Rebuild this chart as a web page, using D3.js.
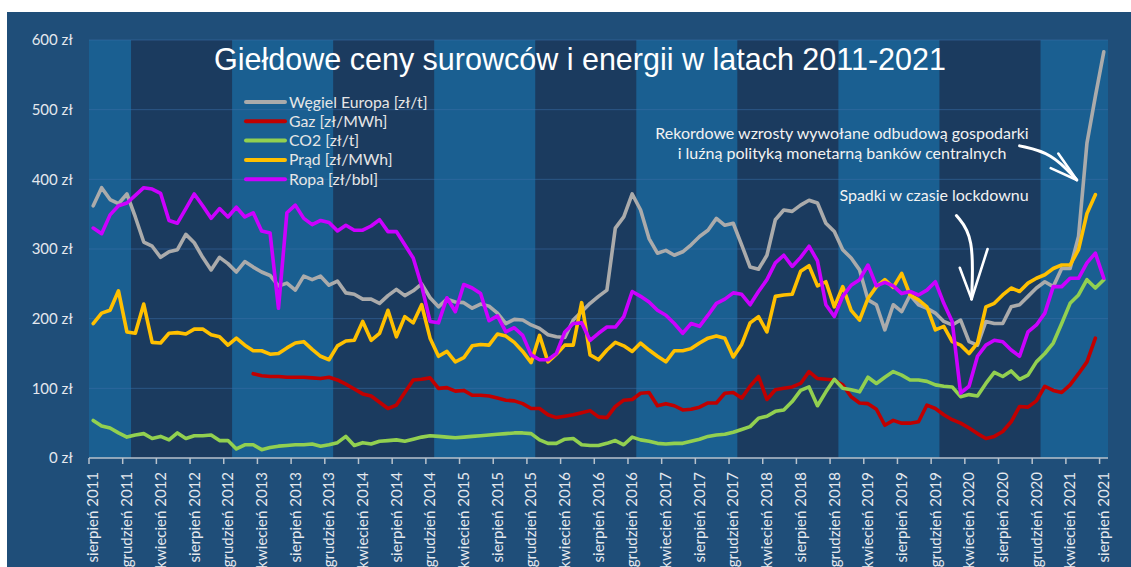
<!DOCTYPE html>
<html>
<head>
<meta charset="utf-8">
<script src="https://cdn.jsdelivr.net/npm/d3@7"></script>
<style>
  html, body { margin: 0; padding: 0; background: #ffffff; }
  svg { display: block; }
  text { font-family: Lato, "Open Sans", sans-serif; }
</style>
</head>
<body>
<div id="chart"></div>
<script>
// monthly data, sierpień 2011 .. sierpień 2021 (121 months)
const startYear = 2011;
const startMonth = 7; // 0-based, August

const tickLabels = [
  'sierpień 2011', 'grudzień 2011', 'kwiecień 2012', 'sierpień 2012', 'grudzień 2012',
  'kwiecień 2013', 'sierpień 2013', 'grudzień 2013', 'kwiecień 2014', 'sierpień 2014',
  'grudzień 2014', 'kwiecień 2015', 'sierpień 2015', 'grudzień 2015', 'kwiecień 2016',
  'sierpień 2016', 'grudzień 2016', 'kwiecień 2017', 'sierpień 2017', 'grudzień 2017',
  'kwiecień 2018', 'sierpień 2018', 'grudzień 2018', 'kwiecień 2019', 'sierpień 2019',
  'grudzień 2019', 'kwiecień 2020', 'sierpień 2020', 'grudzień 2020', 'kwiecień 2021',
  'sierpień 2021'
];

const yTicks = [0, 100, 200, 300, 400, 500, 600];

const wegiel = [
  362, 388, 371, 365, 379, 346, 310, 304, 288, 296, 299, 321, 309, 288, 270, 288, 279, 267, 282, 274,
  267, 262, 247, 251, 241, 261, 256, 261, 248, 254, 237, 235, 228, 228, 222, 233, 242, 233, 240, 250,
  230, 217, 228, 224, 223, 215, 221, 218, 208, 193, 199, 198, 191, 186, 177, 174, 173, 198, 210, 222,
  232, 241, 330, 346, 379, 356, 315, 294, 298, 291, 296, 306, 318, 327, 344, 334, 337, 306, 274, 271,
  291, 342, 356, 354, 363, 370, 366, 337, 325, 299, 287, 270, 227, 220, 184, 220, 210, 234, 220, 215,
  208, 196, 191, 198, 167, 162, 196, 193, 193, 217, 220, 232, 244, 253, 246, 272, 272, 318, 452, 519,
  583
];

const gaz = [
  null, null, null, null, null, null, null, null, null, null, null, null, null, null, null, null, null, null, null, 121,
  118, 117, 117, 116, 116, 116, 115, 114, 116, 112, 106, 99, 92, 89, 80, 71, 76, 94, 112, 113,
  115, 100, 101, 96, 97, 90, 90, 89, 86, 83, 82, 78, 71, 71, 62, 58, 60, 62, 65, 68,
  59, 58, 74, 83, 84, 93, 94, 75, 78, 75, 69, 70, 73, 79, 79, 93, 94, 86, 103, 117,
  84, 98, 100, 102, 107, 124, 114, 113, 112, 105, 88, 79, 78, 70, 47, 54, 50, 50, 52, 76,
  71, 62, 55, 50, 43, 35, 28, 31, 38, 52, 74, 73, 82, 103, 97, 94, 105, 121, 138, 172,
  null
];

const co2 = [
  54, 46, 43, 36, 30, 33, 35, 28, 31, 26, 36, 28, 32, 32, 33, 25, 25, 13, 19, 19,
  12, 15, 17, 18, 19, 19, 20, 17, 19, 22, 31, 18, 22, 20, 24, 25, 26, 24, 27, 30,
  32, 31, 30, 29, 30, 31, 32, 33, 34, 35, 36, 36, 35, 26, 21, 21, 27, 28, 19, 18,
  18, 21, 25, 19, 30, 26, 24, 21, 20, 21, 21, 24, 27, 31, 33, 34, 37, 41, 45, 57,
  60, 67, 69, 81, 97, 102, 75, 95, 113, 100, 98, 95, 116, 107, 116, 124, 119, 112, 112, 110,
  105, 103, 102, 88, 91, 89, 107, 123, 117, 125, 113, 119, 138, 150, 165, 193, 222, 234, 256, 244,
  256
];

const prad = [
  193, 208, 212, 240, 181, 179, 221, 166, 165, 179, 180, 178, 185, 185, 177, 174, 162, 172, 162, 154,
  154, 149, 150, 158, 165, 167, 156, 146, 141, 161, 168, 169, 196, 169, 179, 212, 174, 203, 194, 220,
  172, 146, 153, 138, 144, 161, 163, 162, 178, 175, 166, 153, 137, 176, 138, 149, 162, 162, 223, 148,
  141, 155, 166, 161, 153, 165, 155, 146, 138, 154, 154, 157, 165, 172, 175, 172, 145, 163, 194, 203,
  181, 232, 234, 235, 268, 276, 247, 253, 217, 246, 212, 198, 229, 246, 256, 245, 265, 234, 227, 217,
  184, 189, 167, 162, 150, 165, 217, 222, 234, 244, 239, 251, 258, 263, 272, 277, 277, 299, 351, 378,
  null
];

const ropa = [
  330, 322, 349, 362, 366, 377, 388, 386, 380, 341, 337, 358, 379, 362, 344, 358, 346, 360, 346, 352,
  326, 323, 215, 352, 363, 344, 335, 341, 338, 326, 334, 327, 327, 333, 342, 325, 325, 306, 287, 247,
  196, 194, 230, 210, 249, 244, 236, 197, 204, 181, 187, 176, 148, 141, 141, 150, 181, 193, 194, 169,
  179, 188, 188, 203, 239, 232, 224, 212, 205, 193, 179, 193, 189, 205, 222, 228, 237, 235, 220, 239,
  256, 280, 291, 275, 288, 304, 283, 220, 203, 232, 248, 256, 277, 247, 252, 247, 236, 239, 234, 241,
  253, 222, 196, 93, 103, 146, 162, 169, 167, 155, 146, 181, 191, 208, 246, 246, 258, 258, 280, 294,
  258
];

const seriesNames = ['Węgiel Europa [zł/t]', 'Gaz [zł/MWh]', 'CO2 [zł/t]', 'Prąd [zł/MWh]', 'Ropa [zł/bbl]'];
const seriesColors = ['#ababab', '#c00000', '#92d050', '#ffc000', '#cc00ff'];
const seriesValues = [wegiel, gaz, co2, prad, ropa];

const width = 1131, height = 567;
const plot = { left: 89, right: 1108, top: 40, bottom: 458 };

const svg = d3.select('#chart').append('svg')
  .attr('width', width)
  .attr('height', height);

// outer background
svg.append('rect')
  .attr('x', 7).attr('y', 12)
  .attr('width', width - 7).attr('height', height - 12)
  .attr('fill', '#1f4e79');

const monthIdx = d3.range(wegiel.length);
// month index -> centre of its category slot
const x = d3.scaleLinear()
  .domain([-0.5, monthIdx.length - 0.5])
  .range([plot.left, plot.right]);
const y = d3.scaleLinear().domain([0, 600]).range([plot.bottom, plot.top]);

// year bands
const yearOf = i => startYear + Math.floor((startMonth + i) / 12);
const years = d3.groups(monthIdx, yearOf);
svg.append('g').selectAll('rect')
  .data(years)
  .join('rect')
  .attr('x', d => x(d[1][0] - 0.5))
  .attr('y', plot.top)
  .attr('width', d => x(d[1][d[1].length - 1] + 0.5) - x(d[1][0] - 0.5))
  .attr('height', plot.bottom - plot.top)
  .attr('fill', (d, k) => k % 2 === 0 ? '#1a5f91' : '#1b3b5f');

// gridlines
svg.append('g').selectAll('line')
  .data(yTicks.slice(1))
  .join('line')
  .attr('x1', plot.left).attr('x2', plot.right)
  .attr('y1', d => y(d)).attr('y2', d => y(d))
  .attr('stroke', '#3a6fa8')
  .attr('stroke-opacity', 0.55)
  .attr('stroke-width', 1);

// y labels
svg.append('g').selectAll('text')
  .data(yTicks)
  .join('text')
  .attr('x', 73)
  .attr('y', d => y(d))
  .attr('dy', '0.35em')
  .attr('text-anchor', 'end')
  .attr('fill', '#e4e8ee')
  .style('font-size', '15px')
  .text(d => `${d} zł`);

// x axis: ticks between categories, labels on every 4th month
const xAxis = svg.append('g');
xAxis.append('line')
  .attr('x1', plot.left).attr('x2', plot.right)
  .attr('y1', plot.bottom).attr('y2', plot.bottom)
  .attr('stroke', '#b8c2cc').attr('stroke-width', 1.5);
xAxis.selectAll('line.tick')
  .data(tickLabels)
  .join('line')
  .attr('class', 'tick')
  .attr('x1', (d, k) => x(k * 4 - 0.5)).attr('x2', (d, k) => x(k * 4 - 0.5))
  .attr('y1', plot.bottom).attr('y2', plot.bottom + 6)
  .attr('stroke', '#b8c2cc').attr('stroke-width', 1.5);
xAxis.selectAll('text')
  .data(tickLabels)
  .join('text')
  .attr('transform', (d, k) => `translate(${x(k * 4)},${plot.bottom + 14}) rotate(-90)`)
  .attr('text-anchor', 'end')
  .attr('dy', '0.35em')
  .attr('fill', '#e4e8ee')
  .style('font-size', '15px')
  .text(d => d);

// lines
const line = d3.line()
  .defined(d => d[1] != null)
  .x(d => x(d[0]))
  .y(d => y(d[1]));

svg.append('g').selectAll('path')
  .data(seriesValues)
  .join('path')
  .attr('d', vals => line(vals.map((v, i) => [i, v])))
  .attr('fill', 'none')
  .attr('stroke', (d, k) => seriesColors[k])
  .attr('stroke-width', 3.6)
  .attr('stroke-linejoin', 'round')
  .attr('stroke-linecap', 'round');

// title
svg.append('text')
  .attr('x', 580).attr('y', 70)
  .attr('text-anchor', 'middle')
  .attr('fill', '#ffffff')
  .style('font-family', '"Liberation Sans", Arial, sans-serif')
  .style('font-size', '30.5px')
  .text('Giełdowe ceny surowców i energii w latach 2011-2021');

// legend
const legend = svg.append('g').attr('transform', 'translate(246,102)');
const rows = legend.selectAll('g')
  .data(seriesNames)
  .join('g')
  .attr('transform', (d, k) => `translate(0,${k * 19.3})`);
rows.append('line')
  .attr('x1', 0).attr('x2', 39)
  .attr('stroke', (d, k) => seriesColors[k])
  .attr('stroke-width', 4)
  .attr('stroke-linecap', 'round');
rows.append('text')
  .attr('x', 43)
  .attr('dy', '0.35em')
  .attr('fill', '#e6e6e6')
  .style('font-size', '15.8px')
  .text(d => d);

// annotations
const notes = svg.append('g')
  .attr('fill', '#f2f2f2')
  .attr('text-anchor', 'middle')
  .style('font-size', '16px');
notes.append('text').attr('x', 842).attr('y', 133).attr('dy', '0.35em')
  .text('Rekordowe wzrosty wywołane odbudową gospodarki');
notes.append('text').attr('x', 842).attr('y', 153).attr('dy', '0.35em')
  .text('i luźną polityką monetarną banków centralnych');
notes.append('text').attr('x', 934).attr('y', 195).attr('dy', '0.35em')
  .text('Spadki w czasie lockdownu');

// hand-drawn arrows, anchored in data space [month index, value]
const pt = d => [x(d[0]), y(d[1])];
const curve = d3.line().curve(d3.curveBasis).x(d => pt(d)[0]).y(d => pt(d)[1]);
const arrows = [
  { shaft: [[110, 448], [113.8, 438], [116.8, 399]], head: [[114.6, 437], [116.8, 399], [113.7, 416]] },
  { shaft: [[102.5, 348], [104.6, 318], [104.3, 228]], head: [[102.9, 273], [104.3, 228], [106.2, 300]] }
];
arrows.forEach(a => {
  svg.append('path')
    .attr('d', curve(a.shaft))
    .attr('fill', 'none').attr('stroke', '#ffffff')
    .attr('stroke-width', 3).attr('stroke-linecap', 'round');
  svg.append('path')
    .attr('d', d3.line()(a.head.map(pt)))
    .attr('fill', 'none').attr('stroke', '#ffffff')
    .attr('stroke-width', 2.6).attr('stroke-linecap', 'round').attr('stroke-linejoin', 'round');
});
</script>
</body>
</html>
